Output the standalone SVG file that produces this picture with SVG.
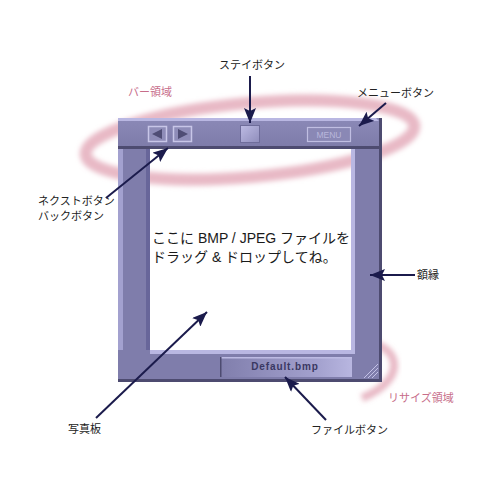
<svg xmlns="http://www.w3.org/2000/svg" width="500" height="500" viewBox="0 0 500 500">
<style>
.lbl{font-family:"Noto Sans CJK JP","Liberation Sans",sans-serif;font-size:11px;fill:#222}
.pink{font-family:"Noto Sans CJK JP","Liberation Sans",sans-serif;font-size:11px;fill:#c76d8a}
.main{font-family:"Liberation Sans","Noto Sans CJK JP",sans-serif;font-size:14px;fill:#1a1a1a}
.arrow{stroke:#1b1b4c;stroke-width:2;fill:none;marker-end:url(#ah)}
.swirl{fill:none;stroke:#d88a9e;stroke-opacity:0.6;filter:url(#blur)}
.fr{fill:#7f7dab}
.hi{fill:#b9b7e2}
.dk{fill:#4d4b70}
</style>
<defs>
<marker id="ah" markerUnits="userSpaceOnUse" markerWidth="16" markerHeight="12" refX="15" refY="6" orient="auto">
<path d="M0,0 L15,6 L0,12 L3,6 Z" fill="#1b1b4c"/>
</marker>
<filter id="blur" x="-20%" y="-50%" width="140%" height="200%"><feGaussianBlur stdDeviation="2.5"/></filter>
<linearGradient id="stay" x1="0" y1="0" x2="1" y2="1"><stop offset="0" stop-color="#bdbbe4"/><stop offset="1" stop-color="#8f8dbb"/></linearGradient>
<linearGradient id="file" x1="0" y1="0" x2="1" y2="0"><stop offset="0" stop-color="#807eac"/><stop offset="0.75" stop-color="#a4a2cf"/><stop offset="1" stop-color="#b8b6e0"/></linearGradient>
<linearGradient id="bar" x1="0" y1="0" x2="0" y2="1"><stop offset="0" stop-color="#8b89b7"/><stop offset="1" stop-color="#7d7ba9"/></linearGradient>
</defs>
<rect width="500" height="500" fill="#fff"/>
<g id="swirls">
<ellipse class="swirl" cx="250" cy="140" rx="165" ry="37" transform="rotate(-5 250 140)" stroke-width="12"/>
<path class="swirl" d="M358 342 C398 340 412 378 362 398" stroke-width="8"/>
</g>
<g id="window">
<rect x="118" y="118" width="264" height="31" fill="url(#bar)"/>
<polygon points="118,118 376,118 382,124 382,121 118,121" class="hi"/>
<rect x="118" y="146" width="264" height="3" class="dk"/>
<rect x="118" y="149" width="32" height="233" class="fr"/>
<rect x="118" y="149" width="5" height="233" fill="#a3a1cf"/>
<rect x="146" y="149" width="4" height="201" fill="#68669a"/>
<rect x="351" y="149" width="31" height="233" class="fr"/>
<rect x="351" y="149" width="4" height="205" class="hi"/>
<rect x="118" y="350" width="264" height="32" class="fr"/>
<rect x="150" y="350" width="205" height="4" class="hi"/>
<rect x="379" y="118" width="3" height="264" class="dk"/>
<rect x="118" y="379" width="264" height="3" class="dk"/>
<path d="M364 378 L378 364 M368 378 L378 368 M372 378 L378 372" stroke="#c4c2e6" stroke-width="1"/>
</g>
<g id="back-button">
<rect x="148.5" y="126.5" width="18" height="15" fill="#8e8cb8" stroke="#c8c6e8" stroke-width="1.5"/>
<polygon points="152,134 162,129 162,139" fill="#4f4d75"/>
</g>
<g id="next-button">
<rect x="173.5" y="126.5" width="18" height="15" fill="#8e8cb8" stroke="#c8c6e8" stroke-width="1.5"/>
<polygon points="188,134 178,129 178,139" fill="#4f4d75"/>
</g>
<g id="stay-button">
<rect x="240.5" y="125.5" width="19" height="17" fill="url(#stay)" stroke="#6f6d9b" stroke-width="1"/>
</g>
<g id="menu-button">
<rect x="307.5" y="127.5" width="43" height="14" fill="#8a88b5" stroke="#c0bee2" stroke-width="1.2"/>
<text x="329" y="138" text-anchor="middle" font-family="'Liberation Sans',sans-serif" font-size="8.5" fill="#b9b7dc">MENU</text>
</g>
<g id="file-button">
<rect x="220" y="357" width="132" height="20" fill="url(#file)"/>
<rect x="220" y="357" width="132" height="1.5" fill="#bdbbe4"/>
<rect x="220" y="357" width="1.5" height="20" fill="#4d4b70"/>
<text x="285" y="370" text-anchor="middle" font-family="'Liberation Sans',sans-serif" font-weight="bold" font-size="10" letter-spacing="0.9" fill="#3a3862">Default.bmp</text>
</g>
<g id="photo-board">
<text class="main" x="152" y="243">ここに BMP / JPEG ファイルを</text>
<text class="main" x="152" y="262">ドラッグ &amp; ドロップしてね。</text>
</g>
<g id="labels">
<text class="lbl" x="252" y="69" text-anchor="middle">ステイボタン</text>
<text class="pink" x="128" y="96">バー領域</text>
<text class="lbl" x="357" y="97">メニューボタン</text>
<text class="lbl" x="38" y="205">ネクストボタン</text>
<text class="lbl" x="38" y="220">バックボタン</text>
<text class="lbl" x="417" y="279">額縁</text>
<text class="lbl" x="68" y="433">写真板</text>
<text class="lbl" x="311" y="434">ファイルボタン</text>
<text class="pink" x="388" y="402">リサイズ領域</text>
</g>
<g id="connectors">
<path class="arrow" d="M250 76 L250 123"/>
<path class="arrow" d="M386 103 L359 126"/>
<path class="arrow" d="M106 198 L168 148"/>
<path class="arrow" d="M415 275 L370 275"/>
<path class="arrow" d="M96 418 L207 312"/>
<path class="arrow" d="M326 420 L285 377"/>
</g>
</svg>
